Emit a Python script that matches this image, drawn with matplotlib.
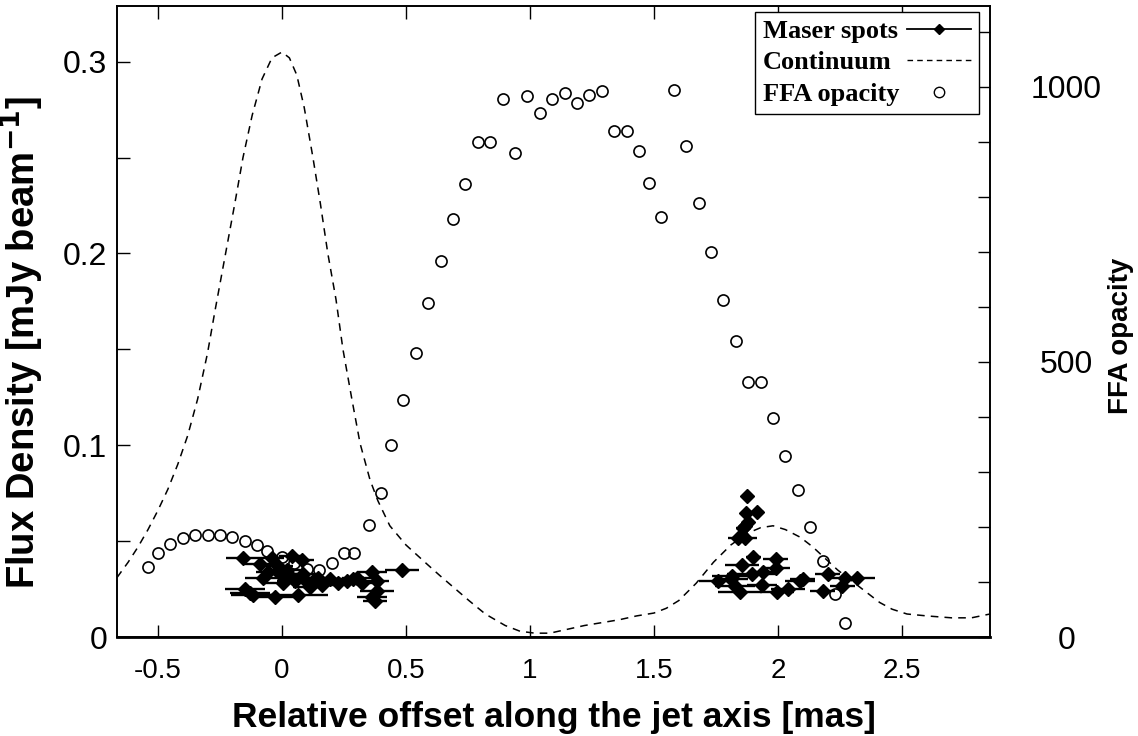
import numpy as np
import matplotlib
matplotlib.use('Agg')
import matplotlib.pyplot as plt
from matplotlib.ticker import MultipleLocator, FixedLocator, FuncFormatter
from matplotlib.lines import Line2D

plt.rcParams['font.family'] = ['Liberation Sans', 'DejaVu Sans']

# --- continuum profile (mJy/beam) ---
cont_x = [-0.665, -0.62, -0.58, -0.54, -0.50, -0.46, -0.42, -0.38, -0.34, -0.30,
          -0.27, -0.23, -0.19, -0.157, -0.12, -0.08, -0.04, 0.0, 0.03, 0.06,
          0.09, 0.125, 0.155, 0.185, 0.218, 0.246, 0.282, 0.315, 0.355, 0.387,
          0.435, 0.50, 0.585, 0.637, 0.70, 0.754, 0.82, 0.90, 0.96, 1.02,
          1.08, 1.15, 1.22, 1.29, 1.36, 1.43, 1.50, 1.55, 1.60, 1.67,
          1.74, 1.81, 1.875, 1.93, 1.98, 2.03, 2.09, 2.14, 2.19, 2.24,
          2.30, 2.36, 2.41, 2.46, 2.52, 2.60, 2.70, 2.78, 2.855]
cont_y = [0.031, 0.039, 0.047, 0.056, 0.066, 0.077, 0.090, 0.105, 0.124, 0.148,
          0.170, 0.198, 0.226, 0.250, 0.272, 0.291, 0.302, 0.305, 0.302, 0.293,
          0.276, 0.250, 0.226, 0.200, 0.176, 0.150, 0.124, 0.101, 0.082, 0.071,
          0.058, 0.048, 0.038, 0.032, 0.025, 0.019, 0.012, 0.006, 0.003, 0.002,
          0.002, 0.004, 0.006, 0.0075, 0.009, 0.011, 0.0125, 0.015, 0.019, 0.028,
          0.039, 0.048, 0.054, 0.057, 0.058, 0.056, 0.052, 0.047, 0.041, 0.035,
          0.029, 0.023, 0.018, 0.0145, 0.012, 0.011, 0.010, 0.010, 0.012]

# --- FFA opacity ---
ffa_x = [-0.54, -0.50, -0.45, -0.40, -0.35, -0.30, -0.25, -0.20, -0.15, -0.10,
         -0.06, 0.00, 0.05, 0.10, 0.15, 0.20, 0.25, 0.29, 0.35, 0.40,
         0.44, 0.49, 0.54, 0.59, 0.64, 0.69, 0.74, 0.79, 0.84, 0.89,
         0.94, 0.99, 1.04, 1.09, 1.14, 1.19, 1.24, 1.29, 1.34, 1.39,
         1.44, 1.48, 1.53, 1.58, 1.63, 1.68, 1.73, 1.78, 1.83, 1.88,
         1.93, 1.98, 2.03, 2.08, 2.13, 2.18, 2.23, 2.27]
ffa_y = [127, 153, 169, 180, 185, 185, 185, 182, 175, 167,
         156, 145, 135, 124, 122, 135, 153, 153, 204, 262,
         349, 431, 516, 607, 684, 760, 824, 900, 900, 978,
         880, 984, 953, 978, 989, 971, 985, 993, 920, 920,
         884, 825, 764, 995, 893, 789, 700, 613, 538, 464,
         464, 398, 329, 267, 200, 138, 78, 25]

# --- maser spots ---
maser_x = [-0.157, -0.149, -0.129, -0.117, -0.089, -0.077, -0.056, -0.040, -0.028, -0.016,
           -0.008, 0.004, 0.020, 0.032, 0.040, 0.052, 0.065, 0.081, 0.085, 0.097,
           0.113, 0.125, 0.145, 0.161, 0.194, 0.226, 0.262, 0.286, 0.302, 0.323,
           0.363, 0.383, 0.383, 0.363, 0.375, 0.484,
           1.875, 1.915, 1.870, 1.880, 1.867, 1.860, 1.840, 1.867, 1.900, 1.990,
           1.855, 1.990, 1.895, 1.815, 1.940, 2.200, 2.270, 2.320, 1.760, 1.810,
           2.090, 2.100, 1.935, 1.826, 2.260, 1.847, 1.996, 2.040, 2.180]
maser_y = [0.041, 0.025, 0.023, 0.022, 0.038, 0.031, 0.034, 0.041, 0.021, 0.037,
           0.033, 0.028, 0.035, 0.032, 0.042, 0.029, 0.022, 0.040, 0.033, 0.029,
           0.026, 0.029, 0.031, 0.027, 0.030, 0.028, 0.029, 0.030, 0.031, 0.028,
           0.034, 0.029, 0.024, 0.021, 0.019, 0.035,
           0.0734, 0.065, 0.0646, 0.060, 0.058, 0.057, 0.0516, 0.0516, 0.0417, 0.0406,
           0.0375, 0.036, 0.033, 0.032, 0.034, 0.033, 0.031, 0.031, 0.029, 0.030,
           0.029, 0.030, 0.027, 0.0266, 0.0266, 0.0234, 0.0234, 0.025, 0.024]
maser_xerr = [0.07, 0.08, 0.08, 0.09, 0.06, 0.07, 0.05, 0.05, 0.10, 0.06,
              0.07, 0.08, 0.06, 0.06, 0.05, 0.07, 0.12, 0.05, 0.06, 0.08,
              0.07, 0.06, 0.05, 0.07, 0.06, 0.06, 0.05, 0.05, 0.06, 0.06,
              0.06, 0.05, 0.07, 0.06, 0.05, 0.07,
              0.02, 0.03, 0.02, 0.02, 0.02, 0.03, 0.04, 0.05, 0.03, 0.05,
              0.07, 0.06, 0.10, 0.08, 0.06, 0.05, 0.06, 0.07, 0.08, 0.07,
              0.06, 0.05, 0.06, 0.08, 0.05, 0.09, 0.07, 0.07, 0.05]

fig = plt.figure(figsize=(11.38, 7.36), dpi=100)
ax = fig.add_axes([0.1028, 0.1345, 0.7672, 0.8573])
ax2 = ax.twinx()

ax.plot(cont_x, cont_y, color='black', lw=1.1, ls=(0, (5, 4)))
ax.errorbar(maser_x, maser_y, xerr=maser_xerr, fmt='D', color='black', ms=7,
            elinewidth=1.7, capsize=0, zorder=3)
ax2.plot(ffa_x, ffa_y, 'o', mfc='none', mec='black', mew=1.2, ms=8)

ax.set_xlim(-0.665, 2.855)
ax.set_ylim(0, 0.329)
ax2.set_ylim(0, 1147)

fmt = FuncFormatter(lambda v, p: f'{v:g}')
ax.xaxis.set_major_locator(MultipleLocator(0.5))
ax.yaxis.set_major_locator(MultipleLocator(0.1))
ax.yaxis.set_minor_locator(MultipleLocator(0.05))
ax.xaxis.set_major_formatter(fmt)
ax.yaxis.set_major_formatter(fmt)
ax.tick_params(axis='both', which='both', direction='in', top=True, length=9, width=1)
ax.tick_params(axis='x', labelsize=20, pad=15)
ax.tick_params(axis='y', labelsize=23, pad=7)

ax2.yaxis.set_major_locator(FixedLocator([0, 500, 1000]))
ax2.yaxis.set_minor_locator(MultipleLocator(100))
ax2.tick_params(axis='y', which='both', direction='in', length=9, width=1,
                labelsize=23, pad=55)
for lbl in ax2.get_yticklabels():
    lbl.set_horizontalalignment('center')

for a in (ax, ax2):
    for s in a.spines.values():
        s.set_linewidth(1.2)
ax.spines['bottom'].set_linewidth(2)

ax.set_xlabel('Relative offset along the jet axis [mas]', fontsize=25.5,
              fontweight='bold', labelpad=12)
ax.set_ylabel('Flux Density [mJy beam$^{\\mathbf{-1}}$]', fontsize=27.5,
              fontweight='bold')
ax.yaxis.set_label_coords(-0.081, 0.467)
ax2.set_ylabel('FFA opacity', fontsize=20, fontweight='bold')
ax2.yaxis.set_label_coords(1.135, 0.477)

handles = [Line2D([], [], color='black', lw=1.3, marker='D', ms=5.5),
           Line2D([], [], color='black', lw=1, ls=(0, (4, 3))),
           Line2D([], [], ls='none', marker='o', mfc='none', mec='black', ms=7.5)]
labels = ['Maser spots', 'Continuum', 'FFA opacity']
leg = ax2.legend(handles, labels, loc='upper right', bbox_to_anchor=(0.987, 0.991),
                 borderaxespad=0, markerfirst=False, fancybox=False, framealpha=1,
                 edgecolor='black', handlelength=2.4, handletextpad=0.3,
                 labelspacing=0.3, borderpad=0.3,
                 prop={'family': 'Liberation Serif', 'weight': 'bold', 'size': 19})
leg.get_frame().set_linewidth(1.0)

# left-align the legend texts while handles stay on the right
fig.canvas.draw()
renderer = fig.canvas.get_renderer()
widths = [t.get_window_extent(renderer).width for t in leg.get_texts()]
rows = [row for col in leg._legend_handle_box.get_children() for row in col.get_children()]
for row, w in zip(rows, widths):
    row.sep += (max(widths) - w) * 72.0 / fig.dpi

fig.savefig('out.png', dpi=100)
